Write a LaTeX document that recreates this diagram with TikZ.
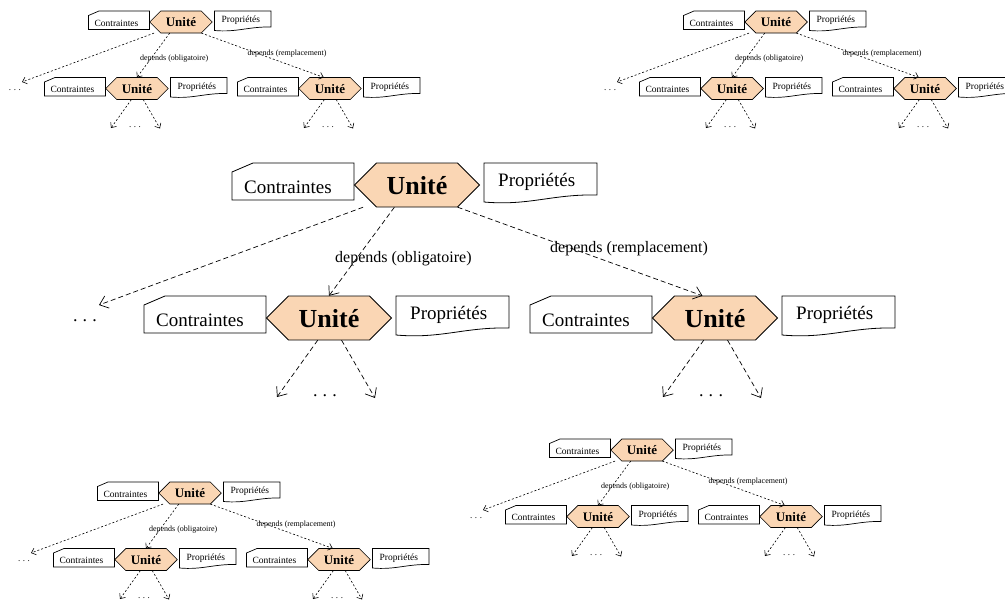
\documentclass[tikz,border=0pt]{standalone}
\usepackage{fontspec}
\setmainfont{Liberation Serif}
\usetikzlibrary{arrows.meta,calc}
\definecolor{peach}{RGB}{250,214,180}
\tikzset{
  ushape/.style={minimum width=125pt, minimum height=44pt, inner sep=0pt},
  utext/.style={font=\fontsize{26}{30}\selectfont\bfseries, inner sep=0pt},
  btext/.style={font=\fontsize{19}{22}\selectfont, inner sep=0pt},
  deplab/.style={font=\fontsize{16}{19}\selectfont, inner sep=0pt},
  dotlab/.style={font=\fontsize{18}{20}\selectfont, inner sep=0pt},
  bigtree/.style={
    outl/.style={draw=black, line width=0.8pt},
    conn/.style={draw=black, line width=0.7pt, dash pattern=on 5pt off 3pt,
      -{Straight Barb[length=8pt,width=13pt]}}},
  smalltree/.style={scale=0.5, transform shape,
    outl/.style={draw=black, line width=0.7pt},
    conn/.style={draw=black, line width=0.6pt, dash pattern=on 2pt off 2pt,
      -{Straight Barb[length=4pt,width=7pt]}}},
}
\newcommand\dotsbox{\makebox[24pt]{.\hfill.\hfill.}}
\newcommand\UBlock[3]{%
  \path[outl, fill=peach] ({#2-62.5},{#3}) -- ({#2-40.5},{#3-22}) -- ({#2+40.5},{#3-22})
    -- ({#2+62.5},{#3}) -- ({#2+40.5},{#3+22}) -- ({#2-40.5},{#3+22}) -- cycle;
  \node[ushape] (#1u) at ({#2},{#3}) {};
  \node[utext, anchor=base] (#1ut) at ({#2},{#3+9}) {Unité};
  \path[outl] ({#2-185},{#3-13}) -- ({#2-164},{#3-22}) -- ({#2-63},{#3-22})
    -- ({#2-63},{#3+15}) -- ({#2-185},{#3+15}) -- cycle;
  \node[btext, anchor=base] (#1c) at ({#2-129},{#3+8}) {Contraintes};
  \path[outl] ({#2+67},{#3-22}) -- ({#2+180},{#3-22}) -- ({#2+180},{#3+10})
    .. controls ({#2+135},{#3+9}) and ({#2+112},{#3+21}) .. ({#2+67},{#3+17}) -- cycle;
  \node[btext, anchor=base west] (#1p) at ({#2+81},{#3+1}) {Propriétés};
}
\newcommand\UTree[1]{%
  \UBlock{#1t}{0}{0}
  \UBlock{#1l}{-88}{133}
  \UBlock{#1r}{298}{133}
  \coordinate (#1e0) at (-318,120);
  \node[dotlab] (#1d0) at (-332,136) {\dotsbox};
  \draw[conn] ($(#1tu.south west)!0.07!(#1tu.south east)$) -- (#1e0);
  \draw[conn] ($(#1tu.south west)!0.32!(#1tu.south east)$) -- (#1lu.north);
  \draw[conn] ($(#1tu.south west)!0.824!(#1tu.south east)$) -- ($(#1ru.north west)!0.4!(#1ru.north east)$);
  \node[deplab, anchor=base west] (#1l1) at (-82,77) {depends (obligatoire)};
  \node[deplab, anchor=base west] (#1l2) at (133,67) {depends (remplacement)};
  \coordinate (#1e1) at (-140,212);
  \coordinate (#1e2) at (-42,213);
  \node[dotlab] (#1d1) at (-92,211) {\dotsbox};
  \draw[conn] ($(#1lu.south west)!0.41!(#1lu.south east)$) -- (#1e1);
  \draw[conn] ($(#1lu.south west)!0.6!(#1lu.south east)$) -- (#1e2);
  \coordinate (#1e3) at (246,212);
  \coordinate (#1e4) at (344,213);
  \node[dotlab] (#1d2) at (294,211) {\dotsbox};
  \draw[conn] ($(#1ru.south west)!0.41!(#1ru.south east)$) -- (#1e3);
  \draw[conn] ($(#1ru.south west)!0.6!(#1ru.south east)$) -- (#1e4);
}
\begin{document}
\begin{tikzpicture}[x=1pt, y=-1pt]
  \useasboundingbox (0,0) rectangle (1005,605);
  \begin{scope}[bigtree, shift={(417,185)}] \UTree{m} \end{scope}
  \begin{scope}[shift={(181,22)}, smalltree] \UTree{a} \end{scope}
  \begin{scope}[shift={(776,22)}, smalltree] \UTree{b} \end{scope}
  \begin{scope}[shift={(190,493)}, smalltree] \UTree{c} \end{scope}
  \begin{scope}[shift={(642,450)}, smalltree] \UTree{d} \end{scope}
\end{tikzpicture}
\end{document}
